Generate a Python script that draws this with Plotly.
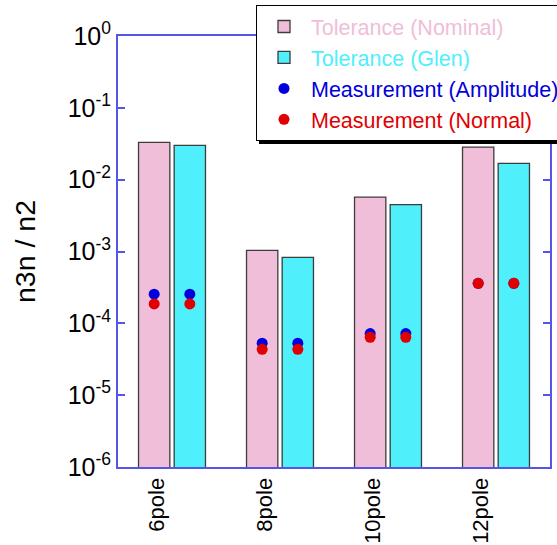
import numpy as np
import plotly.graph_objects as go

categories = ["6pole", "8pole", "10pole", "12pole"]
tol_nominal = [0.033, 0.00104, 0.0057, 0.0284]
tol_glen = [0.030, 0.00083, 0.0045, 0.0169]
meas_amplitude = [2.55e-4, 5.3e-5, 7.2e-5, 3.6e-4]
meas_normal = [1.86e-4, 4.35e-5, 6.4e-5, 3.6e-4]
ytick_vals = [1e-6, 1e-5, 1e-4, 1e-3, 1e-2, 1e-1, 1e0]
ytick_text = ["10<sup>-6</sup>", "10<sup>-5</sup>", "10<sup>-4</sup>", "10<sup>-3</sup>",
              "10<sup>-2</sup>", "10<sup>-1</sup>", "10<sup>0</sup>"]

FONT = "Liberation Sans, Arial, sans-serif"
PINK = "#F0BED8"
CYAN = "#50EFFC"
BLUE = "#0000DD"
RED = "#E00000"
AXIS = "#5555E8"
W, H = 557, 545
ML, MR, MT, MB = 118, 7, 36, 78

idx = np.arange(len(categories))
BAR_W = 0.29
GAP = 0.04
off_pink = -(BAR_W + GAP / 2)
off_cyan = GAP / 2
c_pink = off_pink + BAR_W / 2
c_cyan = off_cyan + BAR_W / 2

fig = go.Figure()
fig.add_trace(go.Bar(
    x=idx, y=tol_nominal, width=BAR_W, offset=off_pink,
    marker=dict(color=PINK, line=dict(color="#3C3C3C", width=1.3)),
    name="<span style='color:%s'>Tolerance (Nominal)</span>" % PINK))
fig.add_trace(go.Bar(
    x=idx, y=tol_glen, width=BAR_W, offset=off_cyan,
    marker=dict(color=CYAN, line=dict(color="#3C3C3C", width=1.3)),
    name="<span style='color:%s'>Tolerance (Glen)</span>" % CYAN))
xs = np.concatenate([idx + c_pink, idx + c_cyan])
fig.add_trace(go.Scatter(
    x=xs, y=meas_amplitude + meas_amplitude, mode="markers",
    marker=dict(color=BLUE, size=11),
    name="<span style='color:%s'>Measurement (Amplitude)</span>" % BLUE))
fig.add_trace(go.Scatter(
    x=xs, y=meas_normal + meas_normal, mode="markers",
    marker=dict(color=RED, size=11),
    name="<span style='color:%s'>Measurement (Normal)</span>" % RED))

pw = W - ML - MR
ph = H - MT - MB

def px_x(p):
    return (p - ML) / pw

def px_y(p):
    return 1 - (p - MT) / ph

fig.update_layout(
    width=W, height=H,
    margin=dict(l=ML, r=MR, t=MT, b=MB, autoexpand=False),
    paper_bgcolor="white", plot_bgcolor="white",
    barmode="overlay",
    font=dict(family=FONT, color="black"),
    showlegend=True,
    legend=dict(x=px_x(256), y=px_y(5), xanchor="left", yanchor="top",
                bgcolor="white", bordercolor="black", borderwidth=1,
                font=dict(size=21.5, family=FONT), itemwidth=44),
    shapes=[dict(type="rect", xref="paper", yref="paper",
                 x0=px_x(259), x1=px_x(640), y0=px_y(144), y1=px_y(10),
                 fillcolor="black", line=dict(width=0), layer="above")],
)
fig.update_xaxes(
    range=[-0.5, len(categories) - 0.5], automargin=False,
    tickvals=idx - 0.14, ticktext=categories, tickangle=-90,
    tickfont=dict(size=22), ticks="", showgrid=False, zeroline=False,
    showline=True, linecolor=AXIS, linewidth=2, mirror=True)
fig.update_yaxes(
    type="log", range=[-6, 0], tickvals=ytick_vals, ticktext=ytick_text,
    automargin=False,
    tickfont=dict(size=25), ticks="inside", ticklen=7, tickwidth=2, tickcolor=AXIS,
    showgrid=False, zeroline=False, showline=True, linecolor=AXIS, linewidth=2,
    mirror="ticks",
    title=dict(text="n3n / n2", font=dict(size=28.5), standoff=24))

fig.write_html("out.html")
